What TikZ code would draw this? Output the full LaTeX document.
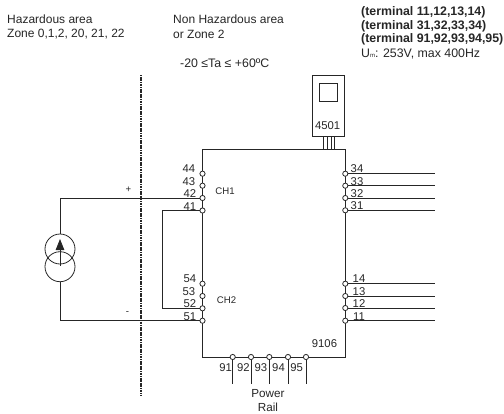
\documentclass[tikz,border=0pt]{standalone}
\usepackage{fontspec}
\setmainfont{Liberation Sans}
\usetikzlibrary{arrows.meta}
\definecolor{inkgray}{gray}{0.15}
\tikzset{
    wire/.style={draw=inkgray, line width=0.8pt},
    terminal/.style={circle, draw=inkgray, fill=white, line width=0.8pt, inner sep=0pt, minimum size=5.2pt},
    txt/.style={text=inkgray, inner sep=0pt, anchor=west, font=\fontsize{12}{14}\selectfont},
    wide/.style={txt, font=\fontsize{12.35}{14}\selectfont},
    num/.style={text=inkgray, inner sep=0pt, font=\fontsize{11.3}{13}\selectfont},
    chlabel/.style={text=inkgray, inner sep=0pt, font=\fontsize{9.6}{11}\selectfont},
}
\begin{document}
\begin{tikzpicture}[x=1pt, y=-1pt]
    \useasboundingbox (0, 0) rectangle (504, 413);

    \node [txt] (haz1) at (7, 19) {Hazardous area};
    \node [txt] (haz2) at (7, 34) {Zone 0,1,2, 20, 21, 22};
    \node [txt] (non1) at (173, 19) {Non Hazardous area};
    \node [txt] (non2) at (173, 34) {or Zone 2};
    \node [wide] (temp) at (180, 63) {-20 ≤Ta ≤ +60ºC};
    \node [wide] (term1) at (361, 12) {\textbf{(terminal 11,12,13,14)}};
    \node [wide] (term2) at (361, 26) {\textbf{(terminal 31,32,33,34)}};
    \node [wide] (term3) at (361, 39) {\textbf{(terminal 91,92,93,94,95)}};
    \node [wide] (um) at (361, 54) {U{\fontsize{6}{6}\selectfont m}: 253V, max 400Hz};

    % barrier
    \coordinate (bartop) at (141, 75);
    \coordinate (barbot) at (141, 395);
    \draw [inkgray, line width=1.7pt, dash pattern=on 1.2pt off 0.5pt] (bartop) -- (barbot);

    % module outline
    \coordinate (nw) at (202.5, 149);
    \coordinate (ne) at (345.3, 149);
    \coordinate (sw) at (202.5, 357);
    \coordinate (se) at (345.3, 357);
    \draw [wire] (nw) -- (ne) -- (se) -- (sw) -- cycle;

    % display unit
    \node [draw=inkgray, line width=0.8pt, minimum width=31.5pt, minimum height=61.5pt, inner sep=0pt] (disp) at (328.3, 105.8) {};
    \node [draw=inkgray, line width=0.8pt, minimum size=18.4pt, inner sep=0pt] (screen) at (328.5, 92.5) {};
    \node [num] (dispnum) at (327.6, 126) {4501};
    \foreach \x in {323, 327, 331, 334} {
        \draw [wire, line width=0.6pt] (\x, 136.7) -- (\x, 149);
    }

    % left terminals
    \foreach \y/\lx/\ly/\name in {
        173.7/189/169/44, 185.7/189/182/43, 198/190/193.5/42, 210.5/190/206.5/41,
        283.7/190/278.5/54, 296/189/292/53, 308.3/190/304/52, 320.7/190/316.5/51} {
        \node [terminal] (t\name) at (202.5, \y) {};
        \node [num] (l\name) at (\lx, \ly) {\name};
    }

    % right terminals
    \foreach \y/\lx/\ly/\name in {
        173.7/357/168.5/34, 185.7/357/182/33, 198/357/194/32, 210.3/357/206/31,
        283.7/359/278.5/14, 296/359/292/13, 308/359/304/12, 320.7/359/317/11} {
        \coordinate (e\name) at (435, \y);
        \draw [wire] (345.3, \y) -- (e\name);
        \node [terminal] (t\name) at (345.3, \y) {};
        \node [num] (l\name) at (\lx, \ly) {\name};
    }

    % power rail
    \foreach \x/\lx/\name in {
        232.7/225.7/91, 251/243.5/92, 269.3/261/93, 288/278.5/94, 306/296.7/95} {
        \coordinate (e\name) at (\x, 384);
        \draw [wire] (\x, 357) -- (e\name);
        \node [terminal] (t\name) at (\x, 357) {};
        \node [num] (l\name) at (\lx, 367.7) {\name};
    }
    \node [num] (model) at (324.5, 344) {9106};
    \node [num, font=\fontsize{11.7}{13}\selectfont] (power) at (268, 394) {Power};
    \node [num, font=\fontsize{11.7}{13}\selectfont] (rail) at (268, 407) {Rail};

    \node [chlabel] (ch1) at (225, 191) {CH1};
    \node [chlabel] (ch2) at (226.5, 300) {CH2};

    % source
    \node [circle, draw=inkgray, line width=0.8pt, minimum size=30pt, inner sep=0pt] (srca) at (60, 249) {};
    \node [circle, draw=inkgray, line width=0.8pt, minimum size=30pt, inner sep=0pt] (srcb) at (60, 266.7) {};
    \coordinate (arrbot) at (60, 265.7);
    \coordinate (arrtop) at (60, 239);
    \draw [wire, -{Triangle[length=11pt, width=8.5pt]}] (arrbot) -- (arrtop);
    \coordinate (cplus) at (60, 198);
    \coordinate (cminus) at (60, 320.7);
    \draw [wire] (srca.north) -- (cplus) -- (t42.west);
    \draw [wire] (srcb.south) -- (cminus) -- (t51.west);
    \node [chlabel] (plus) at (128.5, 190) {+};
    \node [chlabel] (minus) at (127.5, 313) {-};

    % link between channels
    \coordinate (linka) at (162.7, 210.5);
    \coordinate (linkb) at (162.7, 308.3);
    \draw [wire] (t41.west) -- (linka) -- (linkb) -- (t52.west);
\end{tikzpicture}
\end{document}
